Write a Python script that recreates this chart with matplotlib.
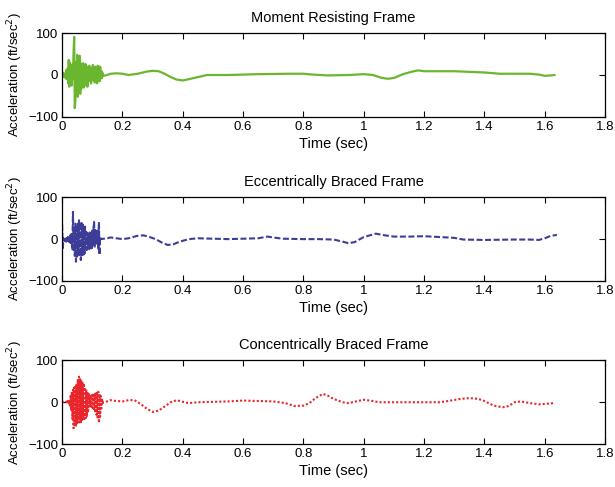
import numpy as np
import matplotlib
matplotlib.use("Agg")
import matplotlib.pyplot as plt

plt.rcParams['font.family'] = ['Liberation Sans', 'DejaVu Sans']

# ---------------- data ----------------
# Noisy early part sampled every 0.002 s
mrf_noisy = [0, 6, -4, 3, -5, 4, -8, 12, -10, 15, -20, 36, -28, 30, -15, 20, -25, 25, -10, 55,
             91, -79, -60, 30, -40, 48, -52, 35, -30, 46, -45, 28, -32, 25, -20, 28, -30, 15,
             -25, 26, -18, 20, -28, 12, -15, 22, -10, 18, -20, 10, -12, 24, -8, 14, -18, 20,
             -6, 12, -20, 22, -10, 15, -15, 20, -5, 10, -8, 5, -2]
mrf_t_smooth = [0.15, 0.16, 0.18, 0.20, 0.22, 0.25, 0.28, 0.30, 0.32, 0.34, 0.36, 0.38, 0.40,
                0.42, 0.45, 0.48, 0.55, 0.60, 0.65, 0.75, 0.80, 0.83, 0.88, 0.95, 1.00, 1.03,
                1.06, 1.08, 1.10, 1.13, 1.16, 1.18, 1.20, 1.30, 1.40, 1.45, 1.55, 1.58, 1.60,
                1.62, 1.632]
mrf_a_smooth = [0, 3, 4, 3, 0, 3, 8, 10, 9, 3, -5, -11, -13, -10, -5, 0, 0, 1, 2, 3, 3, 1, -1,
                0, 2, 0, -7, -9, -7, 2, 8, 11, 9, 9, 6, 3, 3, 1, -2, -1, 0]

ebf_noisy = [35, -25, 2, -3, 4, -5, 3, -6, 5, -4, 8, -6, 5, -8, 10, -10, 15, -26, 65, -30,
             30, -40, 37, -54, 25, -45, 40, -35, 45, -42, 30, -50, 42, -38, 35, -40, 28, -35,
             30, -25, 17, -26, 15, -20, 12, -24, 16, -18, 14, -22, 20, -15, 25, 41, -20, 22,
             -12, 18, -15, 20, -25, 41, -38, 5, 0]
ebf_t_smooth = [0.15, 0.16, 0.18, 0.20, 0.22, 0.25, 0.27, 0.29, 0.31, 0.33, 0.35, 0.37, 0.39,
                0.42, 0.45, 0.50, 0.55, 0.60, 0.65, 0.68, 0.70, 0.73, 0.80, 0.85, 0.90, 0.93,
                0.95, 0.97, 1.00, 1.04, 1.07, 1.10, 1.15, 1.20, 1.25, 1.30, 1.33, 1.40, 1.50,
                1.55, 1.58, 1.60, 1.62, 1.64]
ebf_a_smooth = [2, 4, 2, 0, 2, 8, 9, 5, 0, -8, -14, -12, -6, 0, 2, 1, 0, 1, 2, 6, 4, 1, 0, 0,
                -1, -6, -10, -7, 5, 13, 9, 6, 6, 7, 5, 3, -1, -2, -1, -1, -2, 2, 8, 10]

cbf_noisy = [0, 0, 1, 0, 1, 0, 1, 0, 2, -2, 3, -3, 5, -8, 15, -20, 25, -40, 30, -62, 35, -55,
             40, -58, 45, -50, 55, -52, 61, -48, 55, -50, 50, -45, 48, -42, 45, -40, 35, -38,
             30, -35, 25, -25, 20, -10, 18, -12, 16, -15, 18, -18, 20, -20, 22, -25, 25, -30,
             22, -40, 25, -49, 20, -35, 15, -15, 10, -3, 0]
cbf_t_smooth = [0.14, 0.16, 0.18, 0.20, 0.22, 0.24, 0.26, 0.28, 0.30, 0.32, 0.34, 0.36, 0.38,
                0.40, 0.42, 0.45, 0.50, 0.55, 0.60, 0.65, 0.70, 0.74, 0.77, 0.80, 0.82, 0.84,
                0.865, 0.88, 0.90, 0.93, 0.95, 0.98, 1.00, 1.03, 1.05, 1.10, 1.20, 1.25, 1.28,
                1.32, 1.35, 1.38, 1.40, 1.43, 1.46, 1.48, 1.50, 1.52, 1.55, 1.58, 1.60, 1.63]
cbf_a_smooth = [0, 5, 3, 2, 5, 5, -4, -15, -23, -20, -10, 0, 5, 1, -2, 0, 1, 2, 4, 3, 2, -2,
                -9, -8, -2, 10, 20, 16, 8, 0, -2, 3, 6, 3, 0, 0, 0, 0, 3, 8, 10, 8, 3, -8, -12,
                -9, 0, 2, -2, -5, -4, -2]

noisy_dt = 0.002

titles = ["Moment Resisting Frame", "Eccentrically Braced Frame", "Concentrically Braced Frame"]
x_ticks = [0, 0.2, 0.4, 0.6, 0.8, 1.0, 1.2, 1.4, 1.6, 1.8]
x_ticklabels = ["0", "0.2", "0.4", "0.6", "0.8", "1", "1.2", "1.4", "1.6", "1.8"]
y_ticks = [-100, 0, 100]

series = [
    (mrf_noisy, mrf_t_smooth, mrf_a_smooth, "#6ab62f", "-", 1.6),
    (ebf_noisy, ebf_t_smooth, ebf_a_smooth, "#3d3d98", (0, (2.9, 1.2)), 1.5),
    (cbf_noisy, cbf_t_smooth, cbf_a_smooth, "#e8262b", (0, (1.0, 1.0)), 1.5),
]

fig = plt.figure(figsize=(6.15, 4.87), dpi=100)
left, width = 0.101, 0.883
bottoms = [0.760, 0.423, 0.088]
height = 0.172

for i, (noisy, ts, as_, color, ls, lw) in enumerate(series):
    ax = fig.add_axes([left, bottoms[i], width, height])
    t_noisy = np.arange(len(noisy)) * noisy_dt
    t = np.concatenate([t_noisy, np.array(ts)])
    a = np.concatenate([np.array(noisy, dtype=float), np.array(as_, dtype=float)])
    ax.plot(t, a, color=color, linestyle=ls, linewidth=lw)
    ax.set_xlim(0, 1.8)
    ax.set_ylim(-100, 100)
    ax.set_xticks(x_ticks)
    ax.set_xticklabels(x_ticklabels)
    ax.set_yticks(y_ticks)
    ax.tick_params(direction='in', top=True, right=True, length=4, width=0.8,
                   labelsize=9.5, pad=3)
    for sp in ax.spines.values():
        sp.set_linewidth(0.9)
    ax.set_title(titles[i], fontsize=10.5, pad=8)
    ax.set_xlabel("Time (sec)", fontsize=10.5, labelpad=3)
    ax.set_ylabel("Acceleration (ft/sec$^2$)", fontsize=9.5, labelpad=2)

fig.savefig("out.png", dpi=100)
